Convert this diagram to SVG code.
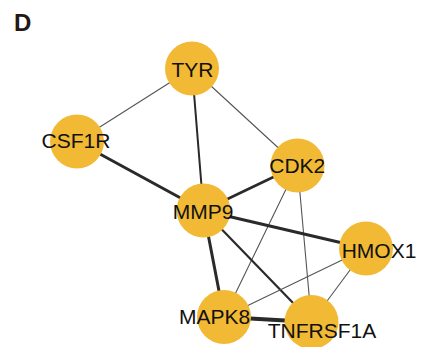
<svg xmlns="http://www.w3.org/2000/svg" width="426" height="347" viewBox="0 0 426 347">
<style>
.n{fill:#F2B935}
.t{font-family:"Liberation Sans",Arial,sans-serif;font-size:21px;fill:#111;text-anchor:middle}
.e{stroke:#2a2a2a;stroke-linecap:round;fill:none}
.thin{stroke:#555;stroke-width:1.1}
</style>
<rect width="426" height="347" fill="#fff"/>
<text x="14" y="30.5" font-family="Liberation Sans,Arial,sans-serif" font-weight="bold" font-size="24" fill="#231815">D</text>
<g id="edges">
<line class="e thin" x1="192" y1="68.5" x2="77" y2="141.5"/>
<line class="e" stroke-width="2" x1="192" y1="68.5" x2="203.5" y2="210.5"/>
<line class="e thin" x1="192" y1="68.5" x2="297.5" y2="165.5"/>
<line class="e" stroke-width="3" x1="77" y1="141.5" x2="203.5" y2="210.5"/>
<line class="e" stroke-width="2.6" x1="297.5" y1="165.5" x2="203.5" y2="210.5"/>
<line class="e thin" x1="297.5" y1="165.5" x2="224" y2="317"/>
<line class="e thin" x1="297.5" y1="165.5" x2="311.5" y2="322"/>
<line class="e" stroke-width="3" x1="203.5" y1="210.5" x2="366" y2="248.5"/>
<line class="e" stroke-width="3" x1="203.5" y1="210.5" x2="224" y2="317"/>
<line class="e" stroke-width="2.2" x1="203.5" y1="210.5" x2="311.5" y2="322"/>
<line class="e thin" x1="366" y1="248.5" x2="224" y2="317"/>
<line class="e thin" x1="366" y1="248.5" x2="311.5" y2="322"/>
<line class="e" stroke-width="4" x1="224" y1="317" x2="311.5" y2="322"/>
</g>
<g id="TYR"><circle class="n" cx="192" cy="68.5" r="27"/><text class="t" x="192.5" y="77">TYR</text></g>
<g id="CSF1R"><circle class="n" cx="77" cy="141.5" r="27"/><text class="t" x="76" y="148.3">CSF1R</text></g>
<g id="CDK2"><circle class="n" cx="297.5" cy="165.5" r="27"/><text class="t" x="297.3" y="173.3">CDK2</text></g>
<g id="MMP9"><circle class="n" cx="203.5" cy="210.5" r="27"/><text class="t" x="203" y="219.3">MMP9</text></g>
<g id="HMOX1"><circle class="n" cx="366" cy="248.5" r="27"/><text class="t" x="379" y="257.7">HMOX1</text></g>
<g id="MAPK8"><circle class="n" cx="224" cy="317" r="27"/><text class="t" x="214.5" y="324">MAPK8</text></g>
<g id="TNFRSF1A"><circle class="n" cx="311.5" cy="322" r="27"/><text class="t" x="322" y="338.3">TNFRSF1A</text></g>
</svg>
